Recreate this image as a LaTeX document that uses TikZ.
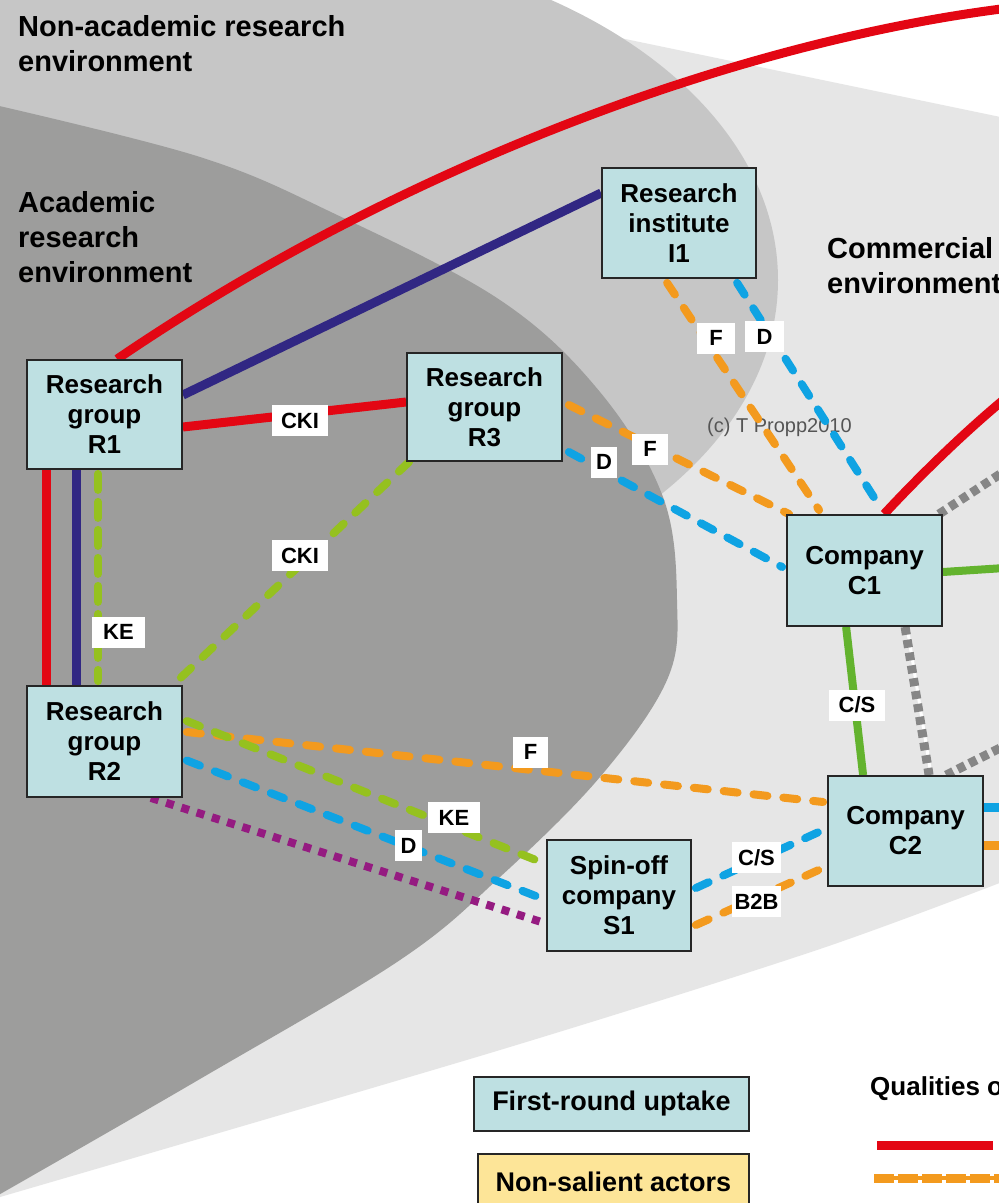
\documentclass[tikz,border=0pt]{standalone}
\usepackage{fontspec}
\setmainfont{Liberation Sans}
\usetikzlibrary{calc}

\definecolor{boxfill}{HTML}{BEE0E2}
\definecolor{legendyellow}{HTML}{FDE598}
\definecolor{academic}{HTML}{9D9D9C}
\definecolor{nonacademic}{HTML}{C6C6C6}
\definecolor{commercial}{HTML}{E6E6E6}
\definecolor{kred}{HTML}{E30613}
\definecolor{knavy}{HTML}{312783}
\definecolor{klime}{HTML}{95C11F}
\definecolor{kgreen}{HTML}{63B32E}
\definecolor{korange}{HTML}{F39A1E}
\definecolor{kblue}{HTML}{0FA3E3}
\definecolor{kpurple}{HTML}{951B81}
\definecolor{kgray}{HTML}{868686}
\definecolor{copygray}{HTML}{555555}

\pgfdeclarelayer{bg}
\pgfdeclarelayer{links}
\pgfsetlayers{bg,links,main}

\begin{document}
\begin{tikzpicture}[x=1pt,y=-1pt,
  actor/.style={draw=black!85, line width=1.8pt, fill=boxfill, align=center,
    font=\fontsize{26}{30}\selectfont\bfseries, inner sep=0pt},
  lbl/.style={fill=white, font=\fontsize{22}{22}\selectfont\bfseries,
    inner xsep=2pt, inner ysep=0pt, minimum height=31pt},
  area/.style={font=\fontsize{29}{35}\selectfont\bfseries, align=left,
    anchor=north west, inner sep=0pt},
  solidlink/.style={line width=9pt},
  dashlink/.style={line width=8pt, line cap=round, dash pattern=on 14pt off 16pt},
  longdashlink/.style={line width=8pt, line cap=round, dash pattern=on 16pt off 12pt},
  dotlink/.style={line width=8pt, dash pattern=on 8pt off 8pt},
  graydots/.style={kgray, line width=9pt, dash pattern=on 8pt off 5pt},
]
\useasboundingbox (0,0) rectangle (999,1203);

% ---------- environments ----------
\begin{pgfonlayer}{bg}
  \fill[white] (0,0) rectangle (999,1203);
  % commercial wedge
  \fill[commercial] (-5,-92) -- (1010,119)
    -- plot[smooth] coordinates {(1010,879) (817,950) (500,1050) (0,1197)}
    -- (-5,1199) -- cycle;
  % non-academic research environment
  \fill[nonacademic] (262,280) ellipse [x radius=516pt, y radius=338pt];
  % academic research environment
  \fill[academic] plot[smooth, tension=0.6] coordinates {
      (-5,105) (200,157) (333,213) (500,300) (600,392) (663,497)
      (677,600) (667,680) (600,777) (500,877) (400,960) (200,1079) (-5,1197)}
    -- cycle;

  \node[area] (tNonAcad) at (18,15) {Non-academic research\\environment};
  \node[area] (tAcad) at (18,191) {Academic\\research\\environment};
  \node[area] (tComm) at (827,237) {Commercial\\environment};
  \node[anchor=base west, inner sep=0pt, text=copygray,
        font=\fontsize{20}{20}\selectfont] (copy) at (707,432) {(c) T Propp2010};
\end{pgfonlayer}

% ---------- actors ----------
\node[actor, minimum width=155pt, minimum height=109pt] (R1) at (104.5,414.5) {Research\\group\\R1};
\node[actor, minimum width=155pt, minimum height=108pt] (R3) at (484.5,407) {Research\\group\\R3};
\node[actor, minimum width=154pt, minimum height=110pt] (I1) at (679,223) {Research\\institute\\I1};
\node[actor, minimum width=155pt, minimum height=111pt] (R2) at (104.5,741.5) {Research\\group\\R2};
\node[actor, minimum width=155pt, minimum height=111pt] (C1) at (864.5,570.5) {Company\\C1};
\node[actor, minimum width=155pt, minimum height=110pt] (C2) at (905.5,831) {Company\\C2};
\node[actor, minimum width=144pt, minimum height=111pt] (S1) at (619,895.5) {Spin-off\\company\\S1};

% free ends of links leaving the picture
\coordinate (outTop) at (1100,0);
\coordinate (outC1red) at (1080,345);
\coordinate (outC1gray) at (1040,448);
\coordinate (outC1green) at (1020,567);
\coordinate (outC2gray) at (1040,728);
\coordinate (outC2blue) at (1010,807);
\coordinate (outC2orange) at (1010,845);

% ---------- links ----------
\begin{pgfonlayer}{links}
  % R1
  \draw[kred, solidlink] ($(R1.north west)+(91,0)$) .. controls (418,154) and (800,15) .. (outTop);
  \draw[knavy, solidlink] ($(R1.east)+(0,-19.5)$) -- ($(I1.west)+(0,-30)$);
  \draw[kred, solidlink] ($(R1.east)+(0,12.5)$) -- ($(R3.west)+(0,-5)$);
  \draw[kred, solidlink] ($(R1.south west)+(20,0)$) -- ($(R2.north west)+(20,0)$);
  \draw[knavy, solidlink] ($(R1.south west)+(50,0)$) -- ($(R2.north west)+(50,0)$);
  \draw[klime, longdashlink] ($(R1.south west)+(72,4)$) -- ($(R2.north west)+(72,-4)$);
  % R3
  \draw[klime, dashlink] ($(R3.south west)+(3,0)$) -- ($(R2.north east)+(-10,0)$);
  \draw[korange, dashlink] ($(R3.east)+(6,-2)$) -- ($(C1.north west)+(3,0)$);
  \draw[kblue, dashlink] ($(R3.east)+(6,45)$) -- ($(C1.west)+(-4,-3.5)$);
  % I1
  \draw[korange, dashlink] ($(I1.south west)+(66,4)$) -- ($(C1.north west)+(33,-4)$);
  \draw[kblue, dashlink] ($(I1.south west)+(136,4)$) -- ($(C1.north west)+(96,-4)$);
  % C1
  \draw[kred, solidlink] ($(C1.north west)+(98,0)$) .. controls (925,470) and (1010,385) .. (outC1red);
  \draw[graydots] ($(C1.north east)+(-4,0)$) -- (outC1gray);
  \draw[kgreen, line width=8pt] ($(C1.east)+(0,1.5)$) -- (outC1green);
  \draw[kgreen, line width=8pt] ($(C1.south west)+(60,0)$) -- ($(C2.north west)+(36,0)$);
  \draw[white, line width=3pt] ($(C1.south west)+(121,0)$) -- ($(C2.north west)+(104,0)$);
  \draw[graydots] ($(C1.south west)+(119,0)$) -- ($(C2.north west)+(102,0)$);
  % C2
  \draw[graydots] ($(C2.north west)+(119,0)$) -- (outC2gray);
  \draw[kblue, solidlink] ($(C2.east)+(0,-24)$) -- (outC2blue);
  \draw[korange, solidlink] ($(C2.east)+(0,14)$) -- (outC2orange);
  % R2
  \draw[korange, dashlink] ($(R2.east)+(4,-9.5)$) -- ($(C2.west)+(-4,-29)$);
  \draw[klime, dashlink] ($(R2.east)+(4,-20.5)$) -- ($(S1.west)+(-4,-33)$);
  \draw[kblue, dashlink] ($(R2.east)+(4,19)$) -- ($(S1.west)+(-4,3)$);
  \draw[kpurple, dotlink] ($(R2.south east)+(-32,0)$) -- ($(S1.west)+(0,28)$);
  % S1
  \draw[kblue, dashlink] ($(S1.east)+(4,-7.5)$) -- ($(C2.west)+(-4,-1)$);
  \draw[korange, dashlink] ($(S1.east)+(4,29.5)$) -- ($(C2.west)+(-4,37)$);
\end{pgfonlayer}

% ---------- link labels ----------
\node[lbl, minimum width=56pt] (lCKIa) at (300,420.5) {CKI};
\node[lbl, minimum width=56pt] (lCKIb) at (300,555.5) {CKI};
\node[lbl, minimum width=53pt] (lKEa) at (118.5,632) {KE};
\node[lbl, minimum width=36pt] (lFa) at (650,449) {F};
\node[lbl, minimum width=26pt] (lDa) at (604,462) {D};
\node[lbl, minimum width=38pt] (lFb) at (716,338) {F};
\node[lbl, minimum width=39pt] (lDb) at (764.5,336.5) {D};
\node[lbl, minimum width=56pt] (lCSa) at (857,705) {C/S};
\node[lbl, minimum width=35pt] (lFc) at (530.5,752) {F};
\node[lbl, minimum width=52pt] (lKEb) at (454,817.5) {KE};
\node[lbl, minimum width=27pt] (lDc) at (408.5,845.5) {D};
\node[lbl, minimum width=49pt] (lCSb) at (756.5,857.5) {C/S};
\node[lbl, minimum width=49pt] (lB2B) at (756.5,901.5) {B2B};

% ---------- legend ----------
\node[actor, minimum width=275pt, minimum height=54pt,
      font=\fontsize{27}{30}\selectfont\bfseries] (legFirst) at (611.5,1104) {First-round uptake};
\node[actor, fill=legendyellow, minimum width=271pt, minimum height=56pt,
      font=\fontsize{27}{30}\selectfont\bfseries] (legNonSal) at (613.5,1182) {Non-salient actors};
\node[anchor=base west, inner sep=0pt, font=\fontsize{26}{30}\selectfont\bfseries] (legTitle) at (870,1095) {Qualities of};
\coordinate (legRedA) at (877,1145);
\coordinate (legRedB) at (993,1145);
\coordinate (legOrA) at (874,1178);
\coordinate (legOrB) at (1010,1178);
\draw[kred, line width=9pt] (legRedA) -- (legRedB);
\draw[korange, line width=4pt] (legOrA) -- (legOrB);
\draw[korange, line width=9pt, dash pattern=on 20pt off 4pt] (legOrA) -- (legOrB);
\end{tikzpicture}
\end{document}
